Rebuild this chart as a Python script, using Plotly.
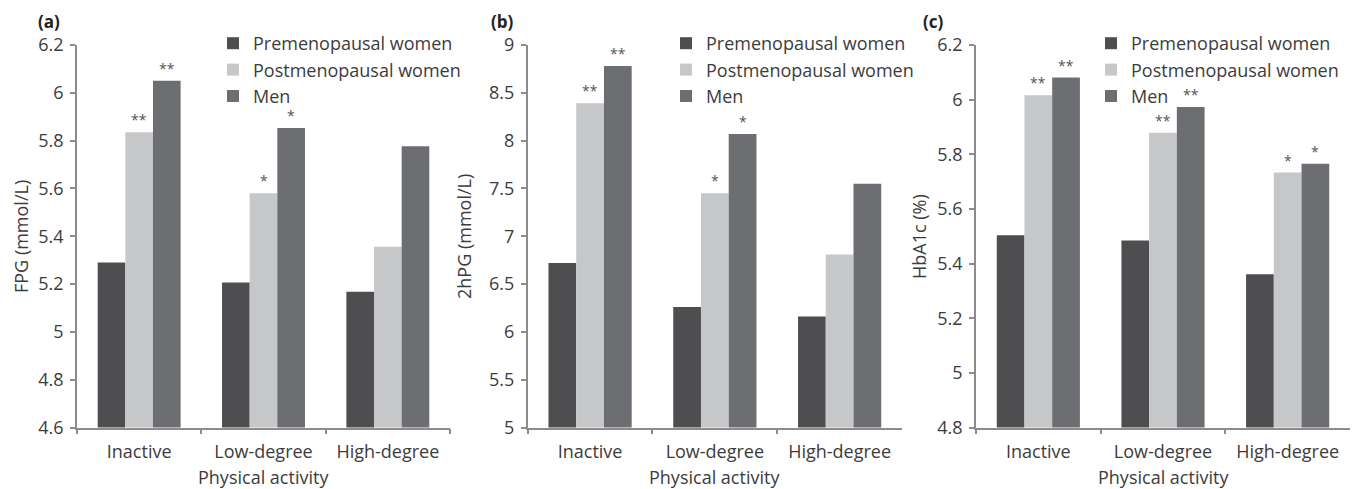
import plotly.graph_objects as go

W, H = 1370, 489
OX, OY = 8, 8  # page body offset

categories = ["Inactive", "Low-degree", "High-degree"]
series_names = ["Premenopausal women", "Postmenopausal women", "Men"]
colors = ["#4e4e50", "#c6c7c9", "#6d6e71"]

fpg_pre = [5.29, 5.207, 5.168]
fpg_post = [5.835, 5.58, 5.356]
fpg_men = [6.05, 5.853, 5.776]

hpg_pre = [6.72, 6.26, 6.16]
hpg_post = [8.39, 7.45, 6.81]
hpg_men = [8.78, 8.07, 7.55]

hba_pre = [5.504, 5.484, 5.361]
hba_post = [6.016, 5.879, 5.733]
hba_men = [6.081, 5.973, 5.765]

fpg_sig = [["", "**", "**"], ["", "*", "*"], ["", "", ""]]
hpg_sig = [["", "**", "**"], ["", "*", "*"], ["", "", ""]]
hba_sig = [["", "**", "**"], ["", "**", "**"], ["", "*", "*"]]

panels = [
    dict(label="(a)", ytitle="FPG (mmol/L)", data=[fpg_pre, fpg_post, fpg_men], sig=fpg_sig,
         yrange=[4.6, 6.2], dtick=0.2, x0=77, x1=450, ytitle_x=21, label_x=37, leg_x=213),
    dict(label="(b)", ytitle="2hPG (mmol/L)", data=[hpg_pre, hpg_post, hpg_men], sig=hpg_sig,
         yrange=[5, 9], dtick=0.5, x0=527.7, x1=902, ytitle_x=464, label_x=490, leg_x=666),
    dict(label="(c)", ytitle="HbA1c (%)", data=[hba_pre, hba_post, hba_men], sig=hba_sig,
         yrange=[4.8, 6.2], dtick=0.2, x0=976, x1=1350, ytitle_x=919, label_x=922, leg_x=1091),
]


def px_x(v):
    return (v - OX) / W


def px_y(v):
    return (H - (v - OY)) / H


y_top, y_bot = 45, 427.5
ydom = [px_y(y_bot), px_y(y_top)]

fig = go.Figure()
annotations = []
axis_color = "#8c8c8c"
text_color = "#3c3c3c"
font_family = "Open Sans"
FS = 18

bar_w = (1 - 0.333) / 3

for p_i, p in enumerate(panels):
    n = "" if p_i == 0 else str(p_i + 1)
    xa = "x" + n
    ya = "y" + n
    leg = "legend" + n
    for s_i in range(3):
        fig.add_trace(go.Bar(
            x=categories, y=p["data"][s_i], name=series_names[s_i],
            marker=dict(color=colors[s_i], line=dict(width=0)),
            xaxis=xa, yaxis=ya, legend=leg, showlegend=True,
        ))
    fig.update_layout(**{
        "xaxis" + n: dict(
            domain=[px_x(p["x0"]), px_x(p["x1"])], anchor=ya, type="category",
            categoryorder="array", categoryarray=categories,
            showline=True, linecolor=axis_color, linewidth=1.5,
            ticks="outside", tickson="boundaries", ticklen=5, tickcolor=axis_color, tickwidth=1.5,
            tickfont=dict(size=FS, color=text_color, family=font_family),
            ticklabelstandoff=7,
            showgrid=False, zeroline=False, fixedrange=True, automargin=False,
        ),
        "yaxis" + n: dict(
            domain=ydom, anchor=xa, range=p["yrange"], dtick=p["dtick"], tick0=p["yrange"][0],
            showline=True, linecolor=axis_color, linewidth=1.5,
            ticks="outside", ticklen=5, tickcolor=axis_color, tickwidth=1.5,
            tickfont=dict(size=FS, color=text_color, family=font_family),
            ticklabelstandoff=3,
            showgrid=False, zeroline=False, fixedrange=True, automargin=False,
        ),
        leg: dict(
            x=px_x(p["leg_x"]), y=px_y(25), xanchor="left", yanchor="top",
            font=dict(size=FS, color=text_color, family=font_family),
            bgcolor="rgba(0,0,0,0)", tracegroupgap=0, itemwidth=30,
            traceorder="normal",
        ),
    })
    annotations.append(dict(
        x=px_x(p["ytitle_x"]), y=px_y(237), xref="paper", yref="paper",
        text=p["ytitle"], textangle=-90, showarrow=False,
        font=dict(size=FS, color=text_color, family=font_family),
        xanchor="center", yanchor="middle", borderpad=0,
    ))
    annotations.append(dict(
        x=px_x((p["x0"] + p["x1"]) / 2), y=px_y(477), xref="paper", yref="paper",
        text="Physical activity", showarrow=False,
        font=dict(size=FS, color=text_color, family=font_family),
        xanchor="center", yanchor="middle",
    ))
    annotations.append(dict(
        x=px_x(p["label_x"]), y=px_y(21), xref="paper", yref="paper",
        text="<b>" + p["label"] + "</b>", showarrow=False,
        font=dict(size=17, color="#222222", family=font_family),
        xanchor="left", yanchor="middle", borderpad=0,
    ))
    for c_i in range(3):
        for s_i in range(3):
            mark = p["sig"][c_i][s_i]
            if mark:
                annotations.append(dict(
                    x=c_i + (s_i - 1) * bar_w, y=p["data"][s_i][c_i], xref=xa, yref=ya,
                    text=mark, showarrow=False, yanchor="bottom", xanchor="center",
                    yshift=2, borderpad=0,
                    font=dict(size=14, color="#555555", family=font_family),
                ))

fig.update_layout(
    template="none",
    width=W, height=H, autosize=False,
    margin=dict(l=0, r=0, t=0, b=0, pad=0),
    paper_bgcolor="white", plot_bgcolor="white",
    barmode="group", bargap=0.333, bargroupgap=0,
    annotations=annotations,
    showlegend=True,
)

fig.write_html("out.html")
